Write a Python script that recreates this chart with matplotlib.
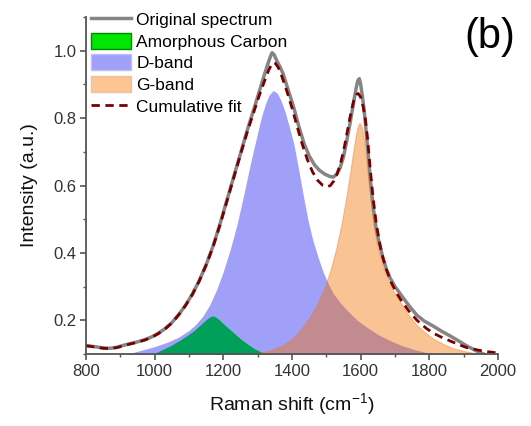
import matplotlib
matplotlib.use("Agg")
import matplotlib.pyplot as plt
from matplotlib.patches import Patch
from matplotlib.lines import Line2D
from matplotlib.ticker import MultipleLocator, FormatStrFormatter

plt.rcParams['font.family'] = ['Liberation Sans', 'DejaVu Sans']
plt.rcParams['mathtext.fontset'] = 'custom'
plt.rcParams['mathtext.rm'] = 'Liberation Sans'

spec_x = [800, 815, 830, 850, 870, 890, 910, 930, 950, 970, 990, 1010, 1030, 1050,
          1070, 1090, 1110, 1130, 1150, 1170, 1190, 1210, 1230, 1250, 1270, 1290,
          1305, 1320, 1330, 1338, 1342, 1348, 1355, 1365, 1374, 1390, 1405, 1420,
          1435, 1450, 1465, 1480, 1495, 1510, 1520, 1530, 1540, 1550, 1560, 1570,
          1580, 1587, 1592, 1596, 1600, 1605, 1610, 1615, 1620, 1628, 1636, 1645,
          1655, 1665, 1675, 1685, 1700, 1715, 1730, 1745, 1764, 1785, 1811, 1835,
          1860, 1885, 1909, 1930, 1948, 1970, 2000]
spec_y = [0.124, 0.123, 0.121, 0.118, 0.117, 0.120, 0.126, 0.131, 0.136, 0.142,
          0.150, 0.161, 0.175, 0.193, 0.217, 0.245, 0.278, 0.318, 0.365, 0.420,
          0.485, 0.555, 0.625, 0.695, 0.765, 0.830, 0.880, 0.930, 0.962, 0.985,
          0.994, 0.988, 0.972, 0.952, 0.932, 0.880, 0.832, 0.775, 0.725, 0.688,
          0.662, 0.645, 0.634, 0.627, 0.625, 0.633, 0.652, 0.685, 0.735, 0.790,
          0.850, 0.890, 0.912, 0.917, 0.900, 0.865, 0.825, 0.770, 0.715, 0.620,
          0.540, 0.472, 0.425, 0.385, 0.352, 0.327, 0.300, 0.279, 0.258, 0.238,
          0.215, 0.198, 0.183, 0.168, 0.154, 0.139, 0.124, 0.113, 0.104, 0.095,
          0.085]

# cumulative fit
fit_x = [800, 830, 850, 870, 890, 910, 930, 950, 970, 990, 1010, 1030, 1050, 1070,
         1090, 1110, 1130, 1150, 1170, 1190, 1210, 1230, 1250, 1270, 1290, 1305,
         1320, 1332, 1340, 1346, 1352, 1360, 1370, 1385, 1400, 1415, 1430, 1445,
         1460, 1475, 1490, 1502, 1512, 1522, 1532, 1542, 1552, 1562, 1572, 1580,
         1588, 1593, 1600, 1607, 1614, 1620, 1628, 1636, 1645, 1655, 1665, 1675,
         1690, 1705, 1720, 1740, 1764, 1790, 1811, 1835, 1860, 1885, 1909, 1940,
         1968, 2000]
fit_y = [0.125, 0.120, 0.117, 0.116, 0.119, 0.125, 0.130, 0.135, 0.141, 0.149,
         0.160, 0.174, 0.192, 0.216, 0.244, 0.277, 0.317, 0.364, 0.418, 0.482,
         0.552, 0.622, 0.692, 0.760, 0.822, 0.868, 0.910, 0.942, 0.958, 0.965,
         0.962, 0.950, 0.925, 0.880, 0.830, 0.775, 0.722, 0.676, 0.640, 0.615,
         0.600, 0.596, 0.600, 0.614, 0.636, 0.668, 0.712, 0.765, 0.818, 0.852,
         0.870, 0.873, 0.862, 0.835, 0.795, 0.740, 0.648, 0.565, 0.490, 0.430,
         0.385, 0.350, 0.310, 0.280, 0.256, 0.228, 0.200, 0.177, 0.162, 0.150,
         0.139, 0.128, 0.119, 0.112, 0.107, 0.103]

# fitted components
amor_x = [940, 970, 995, 1020, 1045, 1070, 1095, 1115, 1135, 1150, 1160, 1168,
          1176, 1188, 1205, 1228, 1250, 1270, 1290, 1310, 1330, 1360, 1400]
amor_y = [0.080, 0.090, 0.100, 0.112, 0.124, 0.139, 0.155, 0.170, 0.188, 0.202,
          0.210, 0.213, 0.211, 0.202, 0.185, 0.165, 0.145, 0.130, 0.116, 0.106,
          0.099, 0.090, 0.080]

d_x = [850, 900, 950, 1000, 1040, 1070, 1100, 1120, 1140, 1160, 1180, 1200, 1220,
       1240, 1260, 1280, 1295, 1310, 1322, 1333, 1345, 1357, 1368, 1380, 1392,
       1405, 1418, 1432, 1447, 1460, 1475, 1490, 1505, 1520, 1540, 1560, 1590,
       1620, 1650, 1685, 1720, 1760, 1800, 1900, 2000]
d_y = [0.085, 0.095, 0.108, 0.122, 0.136, 0.150, 0.170, 0.188, 0.212, 0.245,
       0.290, 0.345, 0.410, 0.485, 0.575, 0.670, 0.735, 0.800, 0.840, 0.868,
       0.882, 0.874, 0.852, 0.818, 0.775, 0.725, 0.655, 0.575, 0.495, 0.440,
       0.390, 0.345, 0.310, 0.280, 0.253, 0.230, 0.200, 0.178, 0.158, 0.140,
       0.125, 0.112, 0.102, 0.088, 0.078]

g_x = [1200, 1250, 1300, 1340, 1370, 1394, 1415, 1433, 1452, 1472, 1492, 1511,
       1528, 1545, 1558, 1569, 1578, 1586, 1592, 1597, 1603, 1610, 1619, 1628,
       1636, 1648, 1660, 1671, 1690, 1715, 1740, 1764, 1790, 1811, 1840, 1869,
       1900, 1927, 1960, 2000]
g_y = [0.085, 0.093, 0.102, 0.112, 0.125, 0.140, 0.160, 0.183, 0.210, 0.245,
       0.290, 0.345, 0.410, 0.490, 0.565, 0.637, 0.700, 0.750, 0.778, 0.786,
       0.775, 0.735, 0.650, 0.565, 0.495, 0.420, 0.375, 0.340, 0.295, 0.255,
       0.215, 0.185, 0.162, 0.146, 0.130, 0.117, 0.109, 0.104, 0.100, 0.097]

fig = plt.figure(figsize=(5.31, 4.26), dpi=100)
ax = fig.add_axes([86 / 531, 1 - 354 / 426, 412 / 531, 337 / 426])

ax.fill_between(d_x, 0, d_y, color='#a0a0f8', lw=0)
ax.fill_between(amor_x, 0, amor_y, color='#00a05a', lw=0)
ax.fill_between(g_x, 0, g_y, facecolor=(243 / 255, 112 / 255, 0), alpha=0.42,
                edgecolor='#f08020', lw=0.8)
ax.plot(spec_x, spec_y, color='#858585', lw=2.5)
ax.plot(fit_x, fit_y, color='#7a0000', lw=2, dashes=(3, 2))

ax.set_xlim(800, 2000)
ax.set_ylim(0.1, 1.1)
ax.xaxis.set_major_locator(MultipleLocator(200))
ax.xaxis.set_minor_locator(MultipleLocator(100))
ax.set_yticks([0.2, 0.4, 0.6, 0.8, 1.0])
ax.yaxis.set_minor_locator(MultipleLocator(0.1))
ax.yaxis.set_major_formatter(FormatStrFormatter('%.1f'))

for s in ['top', 'right']:
    ax.spines[s].set_visible(False)
for s in ['left', 'bottom']:
    ax.spines[s].set_color('#555555')
    ax.spines[s].set_linewidth(1.3)
ax.tick_params(which='major', direction='out', length=4, width=1.2,
               color='#555555', labelsize=12, labelcolor='#333333', pad=3)
ax.tick_params(which='minor', direction='out', length=2.5, width=1.0, color='#555555')

ax.set_xlabel('Raman shift (cm$^{-1}$)', fontsize=14, color='#111111', labelpad=9)
ax.set_ylabel('Intensity (a.u.)', fontsize=14, color='#111111', labelpad=11)

handles = [
    Line2D([], [], color='#858585', lw=2.5),
    Patch(facecolor='#00e600', edgecolor='#008a00', lw=1),
    Patch(facecolor='#a0a0f8', edgecolor='#c0c0f8', lw=1),
    Patch(facecolor='#fcc692', edgecolor='#f0c0a0', lw=1),
    Line2D([], [], color='#7a0000', lw=2, dashes=(3, 2)),
]
labels = ['Original spectrum', 'Amorphous Carbon', 'D-band', 'G-band', 'Cumulative fit']
fig.legend(handles, labels, loc='upper left', bbox_to_anchor=(91 / 531, 1 - 11 / 426),
           frameon=False, fontsize=12.5, handlelength=2.3, handleheight=1.05,
           handletextpad=0.3, labelspacing=0.27, borderpad=0, borderaxespad=0)

fig.text(490 / 531, 1 - 37 / 426, '(b)', fontsize=30, ha='center', va='center')

fig.savefig('out.png', dpi=100)
